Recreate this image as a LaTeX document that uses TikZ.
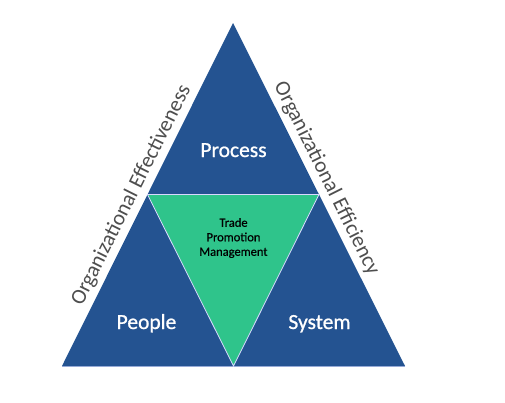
\documentclass[tikz,border=0pt]{standalone}
\usepackage{fontspec}
\setmainfont{Carlito}
\newfontfamily\heavyfont[FakeBold=0.9]{Carlito}
\newfontfamily\midfont[FakeBold=0.4]{Carlito}
\usetikzlibrary{calc}
\definecolor{triblue}{RGB}{36,83,145}
\definecolor{trigreen}{RGB}{47,196,139}
\definecolor{edgeline}{RGB}{150,170,215}
\definecolor{labelgray}{RGB}{78,78,78}
\tikzset{
  bigtext/.style={text=white, font=\heavyfont\fontsize{21.5}{25}\selectfont, anchor=base, inner sep=0pt},
  sidetext/.style={text=labelgray, font=\fontsize{21.5}{25}\selectfont, anchor=base, inner sep=0pt},
  smalltext/.style={text=black, font=\midfont\fontsize{12.5}{14.5}\selectfont, align=center, inner sep=0pt},
}
\begin{document}
\begin{tikzpicture}[x=1pt,y=-1pt]
\useasboundingbox[fill=white] (0,0) rectangle (505,402);
\coordinate (A) at (233,23);
\coordinate (BL) at (62,366);
\coordinate (BR) at (405,366);
\coordinate (ML) at ($(A)!0.5!(BL)$);
\coordinate (MR) at ($(A)!0.5!(BR)$);
\coordinate (MB) at ($(BL)!0.5!(BR)$);
\fill[triblue] (A) -- (BL) -- (BR) -- cycle;
\draw[edgeline, line width=0.8pt] (BL) -- (BR);
\filldraw[fill=trigreen, draw=white!85!blue, line width=0.8pt] (ML) -- (MR) -- (MB) -- cycle;
\node[bigtext] (process) at (233.5,157) {Process};
\node[bigtext] (people) at (146.5,329) {People};
\node[bigtext] (system) at (319.5,329) {System};
\node[smalltext] (tpm) at (233.5,238) {Trade\\Promotion\\Management};
\node[sidetext, rotate=63.44] (eff) at (136.5,197.5) {Organizational Effectiveness};
\node[sidetext, rotate=-63.44] (effi) at (321.5,181) {Organizational Efficiency};
\end{tikzpicture}
\end{document}
